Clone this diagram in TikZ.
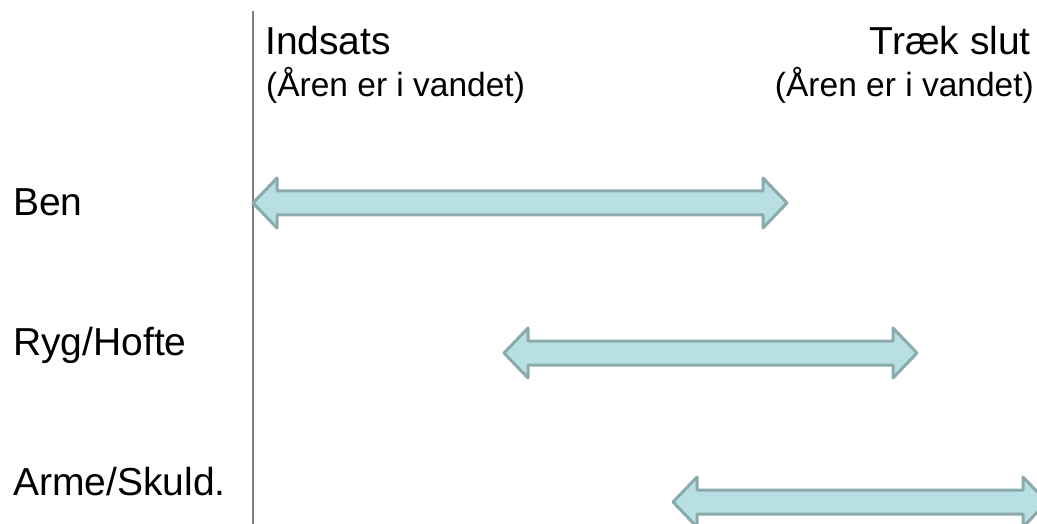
\documentclass[tikz,border=0pt]{standalone}
\usepackage{fontspec}
\setmainfont{Liberation Sans}
\definecolor{arrowfill}{RGB}{184,223,226}
\definecolor{arrowline}{RGB}{138,170,172}
\definecolor{axisgray}{RGB}{128,128,128}
\newcommand{\twoheadarrow}[4]{% name, x1, x2, y
  \path[arrowstyle] (#2,#4) -- (#2+24,#4-25) -- (#2+24,#4-12) -- (#3-24,#4-12) -- (#3-24,#4-25)
    -- (#3,#4) -- (#3-24,#4+25) -- (#3-24,#4+12) -- (#2+24,#4+12) -- (#2+24,#4+25) -- cycle;
  \coordinate (#1) at ({(#2+#3)/2},#4);
}
\begin{document}
\begin{tikzpicture}[x=1pt,y=-1pt,
  arrowstyle/.style={fill=arrowfill,draw=arrowline,line width=3pt,line join=round},
  bigtext/.style={inner sep=0pt,font=\fontsize{39}{46}\selectfont},
  subtext/.style={inner sep=0pt,font=\fontsize{33.5}{40}\selectfont}]
\useasboundingbox (0,0) rectangle (1037,524);
\clip (0,0) rectangle (1037,524);
\coordinate (axtop) at (253,11);
\coordinate (axbot) at (253,524);
\draw[axisgray,line width=2pt] (axtop) -- (axbot);
\node[bigtext,anchor=base west] (indsats) at (265,55) {Indsats};
\node[subtext,anchor=base west] (indsub) at (266,97) {(Åren er i vandet)};
\node[bigtext,anchor=base east] (traek) at (1031,55) {Træk slut};
\node[subtext,anchor=base east] (traeksub) at (1034,97) {(Åren er i vandet)};
\node[bigtext,anchor=base west] (ben) at (13,215) {Ben};
\node[bigtext,anchor=base west] (ryg) at (13,355) {Ryg/Hofte};
\node[bigtext,anchor=base west] (arme) at (13,495) {Arme/Skuld.};
\twoheadarrow{benarrow}{253}{787}{203}
\twoheadarrow{rygarrow}{504}{917}{353}
\twoheadarrow{armearrow}{673}{1047}{502}
\end{tikzpicture}
\end{document}
